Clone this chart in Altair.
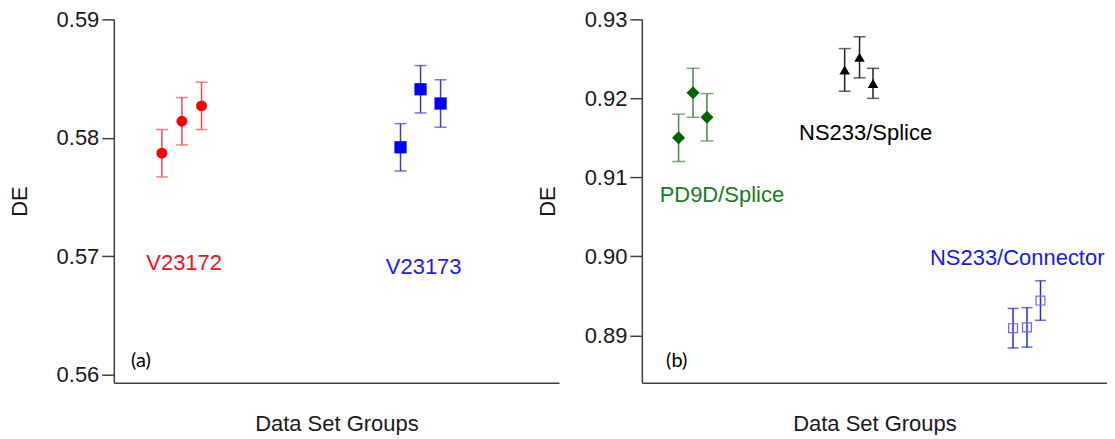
import altair as alt
import pandas as pd

# ---------------- Panel (a) data ----------------
a_groups = ["V23172", "V23172", "V23172", "V23173", "V23173", "V23173"]
a_pos = [10.8, 15.3, 19.7, 64.4, 68.9, 73.4]          # position along "Data Set Groups" (% of axis)
a_de = [0.5787, 0.5814, 0.5827, 0.5792, 0.5841, 0.5829]
a_err = [0.0020, 0.0020, 0.0020, 0.0020, 0.0020, 0.0020]

a_label_text = ["V23172", "V23173", "(a)"]
a_label_pos = [15.8, 69.6, 6.1]
a_label_de = [0.5694, 0.5691, 0.5612]

# ---------------- Panel (b) data ----------------
b_groups = ["PD9D/Splice"] * 3 + ["NS233/Splice"] * 3 + ["NS233/Connector"] * 3
b_pos = [7.9, 11.0, 14.0, 43.6, 46.8, 49.7, 79.8, 82.8, 85.7]
b_de = [0.9150, 0.9207, 0.9176, 0.9236, 0.9252, 0.9219, 0.8909, 0.8910, 0.8944]
b_err = [0.0030, 0.0031, 0.0030, 0.0027, 0.0026, 0.0019, 0.0025, 0.0025, 0.0025]

b_label_text = ["PD9D/Splice", "NS233/Splice", "NS233/Connector", "(b)"]
b_label_pos = [17.2, 48.1, 80.7, 7.5]
b_label_de = [0.9078, 0.9156, 0.8998, 0.8868]

# ---------------- styles ----------------
STYLE = {
    "V23172": dict(color="#FF0000", bar="#E0525A", shape="circle", size=120, filled=True, cap=12),
    "V23173": dict(color="#0000FF", bar="#3A3AD0", shape="square", size=150, filled=True, cap=12),
    "PD9D/Splice": dict(color="#006400", bar="#4E7F4E", shape="diamond", size=170, filled=True, cap=13),
    "NS233/Splice": dict(color="#000000", bar="#222222", shape="triangle-up", size=110, filled=True, cap=12),
    "NS233/Connector": dict(color="#6A6AE8", bar="#2A2AD0", shape="square", size=80, filled=False, cap=11),
}
LABEL_COLOR = {
    "V23172": "#F0141E", "V23173": "#1E1EE6", "PD9D/Splice": "#1E7A1E",
    "NS233/Splice": "#000000", "NS233/Connector": "#1A1AE6", "(a)": "#000000", "(b)": "#000000",
}

FONT = "Liberation Sans"


def make_panel(groups, pos, de, err, lab_text, lab_pos, lab_de, ydomain, yvalues, width):
    df = pd.DataFrame({"group": groups, "pos": pos, "de": de, "err": err})
    df["lo"] = df["de"] - df["err"]
    df["hi"] = df["de"] + df["err"]

    xs = alt.Scale(domain=[0, 100], nice=False, zero=False)
    ys = alt.Scale(domain=ydomain, nice=False, zero=False)
    xax = alt.Axis(title="Data Set Groups", labels=False, ticks=False, grid=False)
    yax = alt.Axis(title="DE", values=yvalues, format=".2f", grid=False)

    layers = []
    for g in dict.fromkeys(groups):
        st = STYLE[g]
        sub = df[df["group"] == g]
        base = alt.Chart(sub)
        layers.append(
            base.mark_rule(color=st["bar"], strokeWidth=1.5).encode(
                x=alt.X("pos:Q", scale=xs, axis=xax),
                y=alt.Y("lo:Q", scale=ys, axis=yax),
                y2="hi:Q",
            )
        )
        for f in ["lo", "hi"]:
            layers.append(
                base.mark_tick(color=st["bar"], thickness=1.5, size=st["cap"], orient="horizontal").encode(
                    x=alt.X("pos:Q", scale=xs, axis=xax),
                    y=alt.Y(f"{f}:Q", scale=ys, axis=yax),
                )
            )
        layers.append(
            base.mark_point(
                shape=st["shape"], size=st["size"], filled=st["filled"],
                color=st["color"], opacity=1, strokeWidth=1.2,
            ).encode(
                x=alt.X("pos:Q", scale=xs, axis=xax),
                y=alt.Y("de:Q", scale=ys, axis=yax),
            )
        )

    for t, p, d in zip(lab_text, lab_pos, lab_de):
        is_tag = t.startswith("(")
        ldf = pd.DataFrame({"pos": [p], "de": [d], "label": [t]})
        layers.append(
            alt.Chart(ldf).mark_text(
                font="Lato" if is_tag else FONT,
                fontSize=20 if is_tag else 22,
                color=LABEL_COLOR[t], align="center", baseline="middle",
            ).encode(
                x=alt.X("pos:Q", scale=xs, axis=xax),
                y=alt.Y("de:Q", scale=ys, axis=yax),
                text="label:N",
            )
        )

    return alt.layer(*layers).properties(width=width, height=364)


left = make_panel(a_groups, a_pos, a_de, a_err, a_label_text, a_label_pos, a_label_de,
                  [0.55933, 0.59], [0.56, 0.57, 0.58, 0.59], 446)
right = make_panel(b_groups, b_pos, b_de, b_err, b_label_text, b_label_pos, b_label_de,
                   [0.8840, 0.93], [0.89, 0.90, 0.91, 0.92, 0.93], 466)

chart = (
    alt.hconcat(left, right, spacing=-23)
    .properties(padding={"left": 0, "top": 0, "right": 0, "bottom": 0})
    .configure_view(stroke=None)
    .configure_axis(
        domainColor="#404040", domainWidth=1.5,
        tickColor="#404040", tickWidth=1.5, tickSize=12,
        labelFont=FONT, labelFontSize=22, labelColor="#1a1a1a", labelPadding=3,
        titleFont=FONT, titleFontSize=22, titleFontWeight="normal", titleColor="#1a1a1a",
    )
    .configure_axisY(titlePadding=25)
    .configure_axisX(titlePadding=31)
)

chart.save("out.html", embed_options={"renderer": "svg", "actions": False})
